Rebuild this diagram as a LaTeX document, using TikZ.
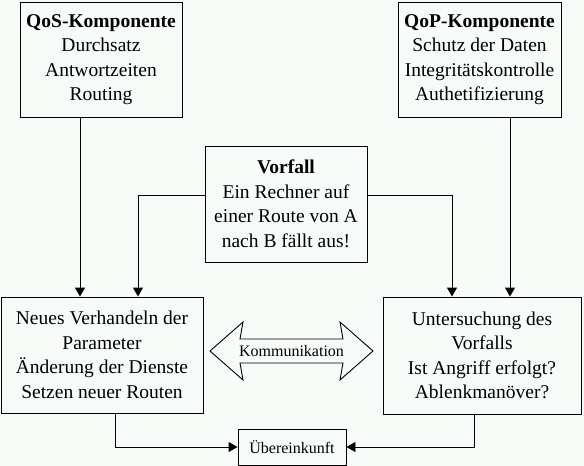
\documentclass[tikz,border=0pt]{standalone}
\usepackage{fontspec}
\setmainfont{Liberation Serif}
\usetikzlibrary{arrows.meta}
\definecolor{hintergrund}{HTML}{F8FCF8}

\begin{document}
\begin{tikzpicture}[x=1pt,y=-1pt,
    box/.style={draw,line width=0.9pt,align=center,inner sep=0pt,
      font=\fontsize{19.5}{24.5}\selectfont},
    pfeil/.style={line width=0.9pt,-{Triangle[length=9pt,width=10pt]}},
    linie/.style={line width=0.9pt}]
    \fill[hintergrund] (0,0) rectangle (584,466);
    \useasboundingbox (0,0) rectangle (584,466);
    \node[box,minimum width=162pt,minimum height=115pt] (qos) at (101,59.5)
      {\textbf{QoS-Komponente}\\Durchsatz\\Antwortzeiten\\Routing};
    \node[box,minimum width=163pt,minimum height=115pt] (qop) at (479.5,59.5)
      {\textbf{QoP-Komponente}\\Schutz der Daten\\Integritätskontrolle\\Authetifizierung};
    \node[box,minimum width=162pt,minimum height=116pt] (vorfall) at (286,204)
      {\textbf{Vorfall}\\Ein Rechner auf\\einer Route von A\\nach B fällt aus!};
    \node[box,minimum width=202pt,minimum height=116pt] (neu) at (102,355)
      {Neues Verhandeln der\\Parameter\\Änderung der Dienste\\Setzen neuer Routen};
    \node[box,minimum width=198pt,minimum height=117pt] (unters) at (482,355.5)
      {Untersuchung des\\Vorfalls\\Ist Angriff erfolgt?\\Ablenkmanöver?};
    \node[box,font=\fontsize{16}{18}\selectfont,minimum width=108pt,minimum height=36pt]
      (einkunft) at (292,447) {Übereinkunft};
    % Kommunikation
    \draw[linie] (210,351) -- (243,322) -- (240,339) -- (343,339) -- (340,322)
      -- (373,351) -- (340,380) -- (343,363) -- (240,363) -- (243,380) -- cycle;
    \node[font=\fontsize{16}{18}\selectfont] (komm) at (291.5,351) {Kommunikation};
    % Pfeile
    \draw[pfeil] (80,0 |- qos.south) -- (80,0 |- neu.north);
    \draw[pfeil] (510,0 |- qop.south) -- (510,0 |- unters.north);
    \draw[pfeil] (vorfall.west |- 0,195) -| (138,0 |- neu.north);
    \draw[pfeil] (vorfall.east |- 0,195) -| (452,0 |- unters.north);
    \draw[pfeil] (115,0 |- neu.south) |- (einkunft.west);
    \draw[pfeil] (474,0 |- unters.south) |- (einkunft.east);
\end{tikzpicture}
\end{document}
